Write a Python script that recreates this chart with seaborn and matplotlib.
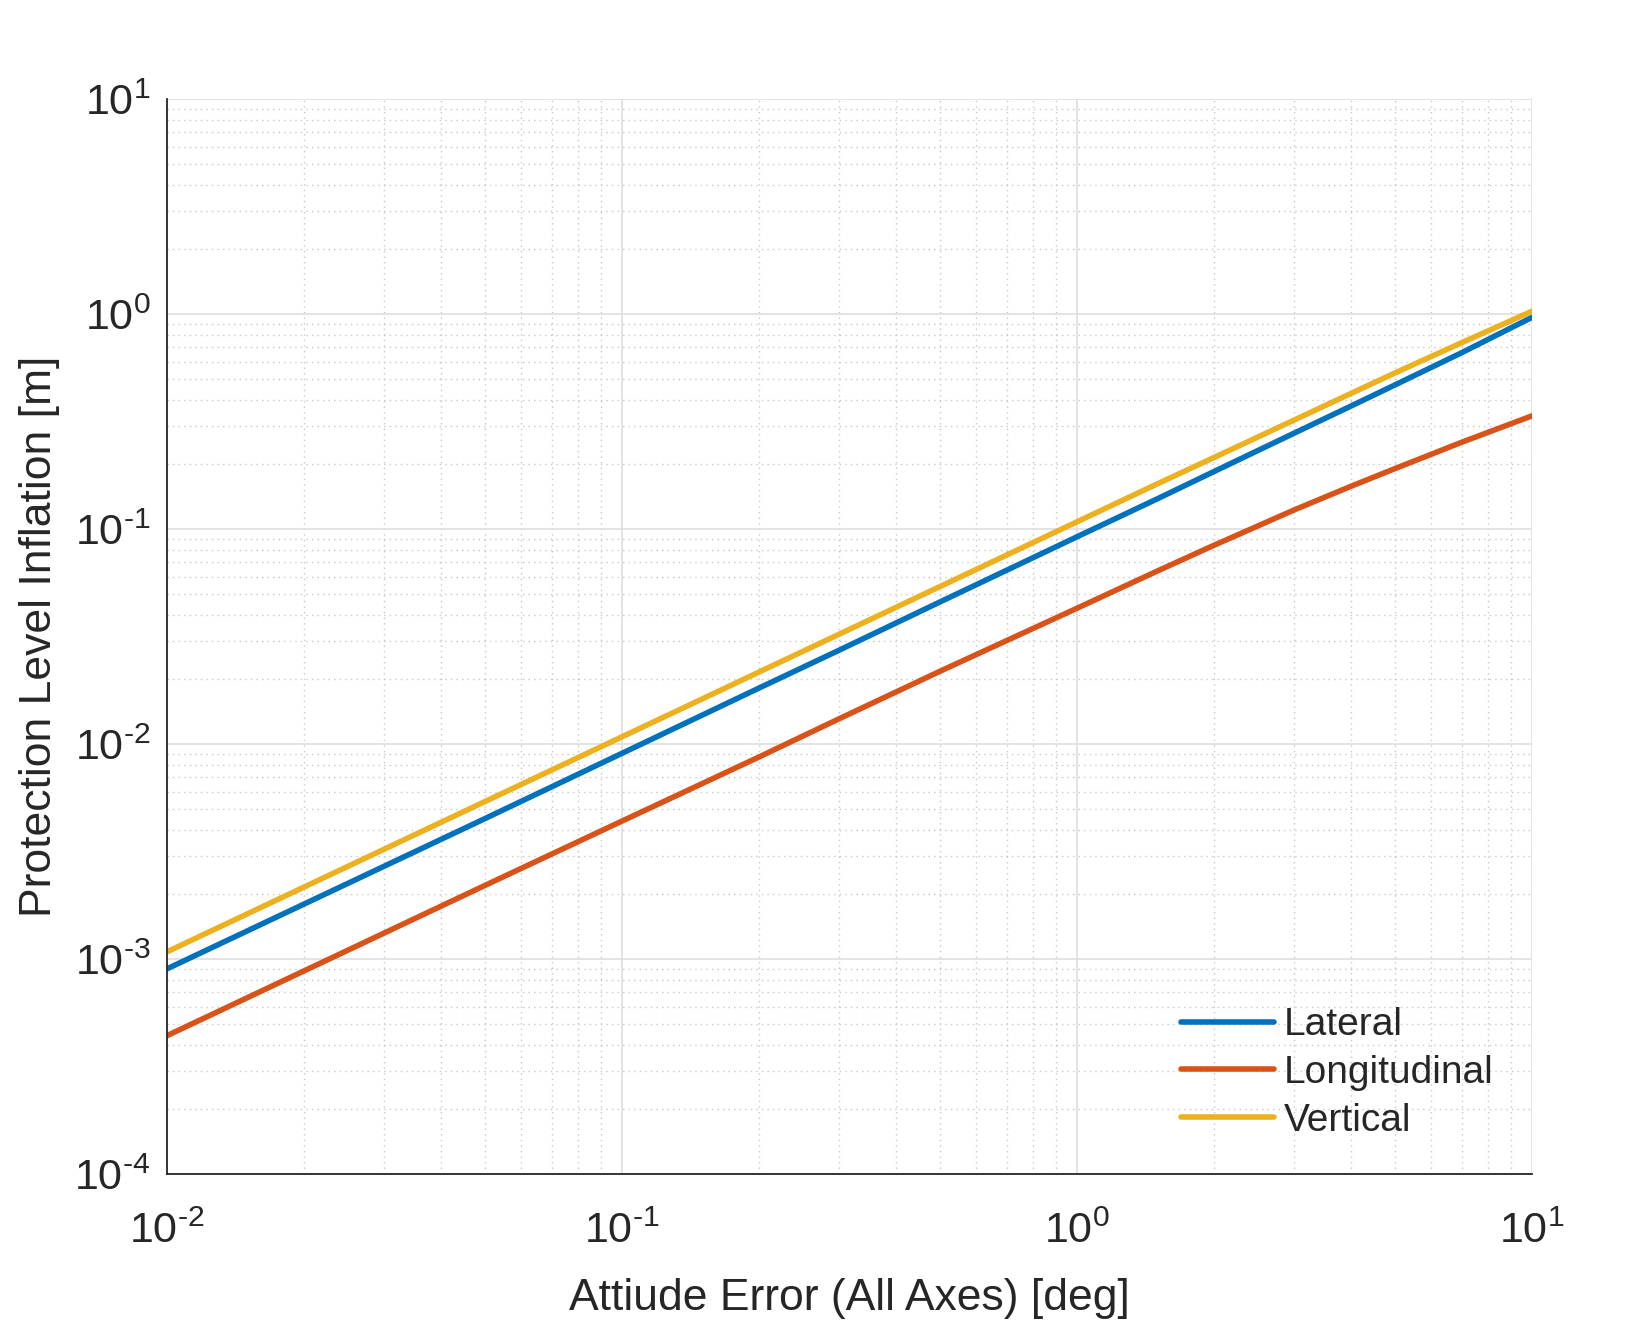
import numpy as np
import pandas as pd
import matplotlib
matplotlib.use("Agg")
import matplotlib.pyplot as plt
import seaborn as sns
from matplotlib.ticker import LogLocator, FuncFormatter

# values (log-log, roughly slope 1)
attitude_err = [0.01, 0.02, 0.03, 0.05, 0.1, 0.2, 0.3, 0.5, 1, 1.5, 2, 3, 4, 5, 7, 10]
lateral = [9.0e-4, 1.8e-3, 2.7e-3, 4.5e-3, 9.05e-3, 0.0182, 0.0273, 0.0458,
           0.092, 0.138, 0.185, 0.279, 0.373, 0.468, 0.66, 0.965]
longitudinal = [4.4e-4, 8.8e-4, 1.32e-3, 2.2e-3, 4.38e-3, 8.7e-3, 0.0131, 0.0218,
                0.0428, 0.0637, 0.084, 0.1226, 0.158, 0.191, 0.253, 0.336]
vertical = [1.08e-3, 2.16e-3, 3.24e-3, 5.4e-3, 0.0108, 0.0216, 0.0324, 0.054,
            0.108, 0.162, 0.215, 0.321, 0.427, 0.532, 0.735, 1.03]

series_names = ["Lateral", "Longitudinal", "Vertical"]
colors = ["#0072BD", "#D95319", "#EDB120"]

df = pd.concat([
    pd.DataFrame({"x": attitude_err, "y": vals, "series": name})
    for name, vals in zip(series_names, [lateral, longitudinal, vertical])
])

sns.set_theme(style="white")
plt.rcParams["font.family"] = ["Liberation Sans", "DejaVu Sans"]
plt.rcParams["mathtext.fontset"] = "custom"
plt.rcParams["mathtext.rm"] = "Liberation Sans"
plt.rcParams["mathtext.it"] = "Liberation Sans"
plt.rcParams["mathtext.default"] = "regular"

fig = plt.figure(figsize=(16.42, 13.2), dpi=100)
ax = fig.add_axes([167 / 1642, 1 - 1174 / 1320, 1365 / 1642, 1075 / 1320])

sns.lineplot(data=df, x="x", y="y", hue="series", palette=colors,
             hue_order=series_names, linewidth=4, ax=ax, sort=False)

ax.set_xscale("log")
ax.set_yscale("log")
ax.set_xlim(1e-2, 1e1)
ax.set_ylim(1e-4, 1e1)

ax.xaxis.set_major_locator(LogLocator(base=10, numticks=10))
ax.yaxis.set_major_locator(LogLocator(base=10, numticks=10))
ax.xaxis.set_minor_locator(LogLocator(base=10, subs=np.arange(2, 10), numticks=20))
ax.yaxis.set_minor_locator(LogLocator(base=10, subs=np.arange(2, 10), numticks=20))


def pow_label(v, pos):
    e = int(round(np.log10(v)))
    if e < 0:
        return r"$10^{\text{-}%d}$" % (-e)
    return r"$10^{%d}$" % e


ax.xaxis.set_major_formatter(FuncFormatter(pow_label))
ax.yaxis.set_major_formatter(FuncFormatter(pow_label))

ax.grid(True, which="major", color="#dedede", linestyle="-", linewidth=1.2)
ax.grid(True, which="minor", color="#c8c8c8", linestyle=(0, (1, 3)), linewidth=1.0)
ax.set_axisbelow(True)

for side in ["top", "right"]:
    ax.spines[side].set_visible(False)
for side in ["left", "bottom"]:
    ax.spines[side].set_color("#262626")
    ax.spines[side].set_linewidth(1.3)

ax.tick_params(which="major", direction="in", length=9.5, width=1.2,
               color="#262626", labelsize=31, labelcolor="#262626")
ax.tick_params(axis="x", which="major", pad=27)
ax.tick_params(axis="y", which="major", pad=12)
ax.tick_params(which="minor", direction="in", length=5, width=1.0, color="#262626")

ax.set_xlabel("Attiude Error (All Axes) [deg]", fontsize=32, color="#262626", labelpad=19)
ax.set_ylabel("Protection Level Inflation [m]", fontsize=32, color="#262626", labelpad=10)

leg = ax.legend(loc="lower right", bbox_to_anchor=(0.972, 0.033), frameon=False,
                fontsize=28, handlelength=2.4, handletextpad=0.25,
                labelspacing=0.3, borderaxespad=0, borderpad=0)
for line in leg.get_lines():
    line.set_linewidth(4)

fig.savefig("out.png", dpi=100, facecolor="white")
